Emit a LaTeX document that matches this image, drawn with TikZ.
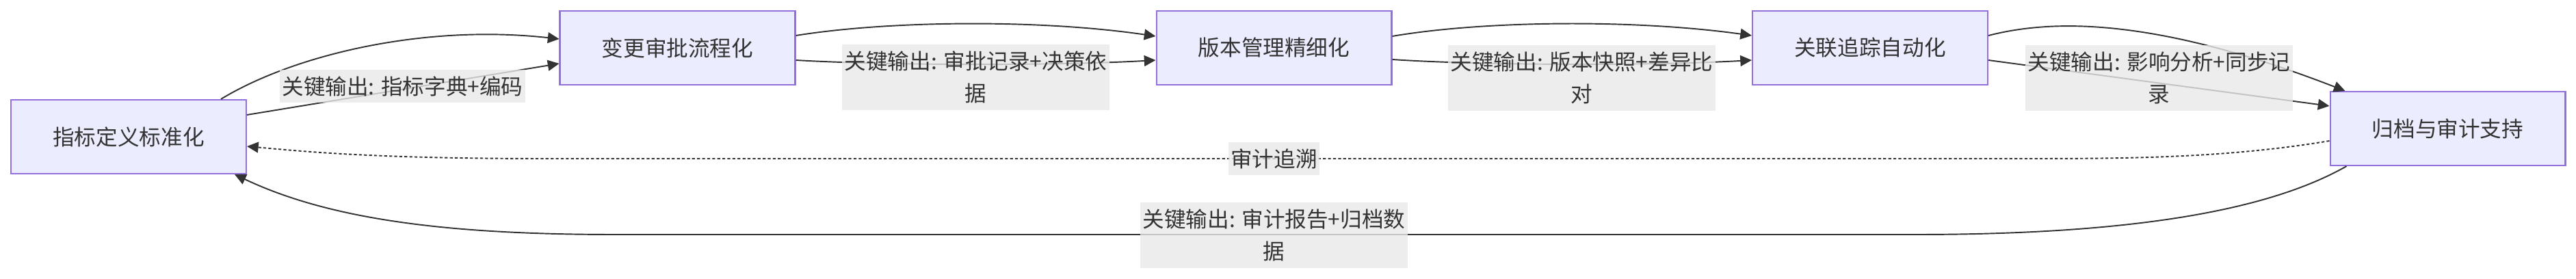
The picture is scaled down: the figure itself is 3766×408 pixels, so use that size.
\documentclass[tikz,border=0pt]{standalone}
\usepackage{fontspec}
\setmainfont{Noto Sans CJK SC}
\usetikzlibrary{arrows.meta, calc}

\begin{document}
\begin{tikzpicture}[x=0.02cm, y=-0.02cm, font=\fontsize{18}{27}\selectfont]

\definecolor{nodefill}{HTML}{ECECFF}
\definecolor{nodeline}{HTML}{9370DB}
\definecolor{ink}{HTML}{333333}
\definecolor{lblbg}{HTML}{E8E8E8}

\tikzset{
  stage/.style={rectangle, fill=nodefill, draw=nodeline, line width=1.2pt, minimum width=6.88cm, minimum height=2.16cm, inner sep=0pt, text=ink},
  elabel/.style={fill=lblbg, fill opacity=0.8, text opacity=1, text=ink, inner xsep=2pt, inner ysep=0pt, minimum height=0.96cm, align=center},
  elabel2/.style={elabel, minimum height=1.92cm},
  flow/.style={-{Triangle[length=9.5pt, width=9pt]}, line width=1.1pt, ink},
  trace/.style={flow, dash pattern=on 2.4pt off 1.8pt}
}

\useasboundingbox (0,0) rectangle (3766,408);

%stages
\node[stage] (std) at (188,200) {指标定义标准化};
\node[stage] (chg) at (990.5,70) {变更审批流程化};
\node[stage] (ver) at (1862.5,70) {版本管理精细化};
\node[stage] (trk) at (2734,70) {关联追踪自动化};
\node[stage] (arc) at (3578.5,188) {归档与审计支持};

%forward
\draw[flow] ($(std.north)+(135,0)$) .. controls (430,80) and (620,35) .. ($(chg.west)+(0,-13)$);
\draw[flow] ($(std.east)+(0,-32)$) -- ($(chg.west)+(0,23)$);

\draw[flow] ($(chg.east)+(0,-18)$) .. controls (1300,30) and (1520,28) .. ($(ver.west)+(0,-17)$);
\draw[flow] ($(chg.east)+(0,18)$) .. controls (1300,96) and (1550,96) .. ($(ver.west)+(0,18)$);

\draw[flow] ($(ver.east)+(0,-17)$) .. controls (2170,30) and (2390,28) .. ($(trk.west)+(0,-18)$);
\draw[flow] ($(ver.east)+(0,17)$) .. controls (2170,96) and (2420,96) .. ($(trk.west)+(0,18)$);

\draw[flow] ($(trk.east)+(0,-18)$) .. controls (3000,28) and (3150,25) .. ($(arc.north)+(-150,0)$);
\draw[flow] ($(trk.east)+(0,18)$) -- ($(arc.west)+(0,-33)$);

%back
\draw[trace] ($(arc.west)+(0,18)$) .. controls (3250,232) and (3100,232) .. (2950,232) -- (800,232) .. controls (550,232) and (450,222) .. ($(std.east)+(0,14)$);
\draw[flow] ($(arc.south)+(-148,0)$) .. controls (3330,300) and (3150,343) .. (2800,343) -- (900,343) .. controls (650,343) and (480,320) .. ($(std.south)+(155,0)$);

%labels
\node[elabel] (k1) at (588.5,126) {关键输出: 指标字典+编码};
\node[elabel2] (k2) at (1426.5,113) {关键输出: 审批记录+决策依\\据};
\node[elabel2] (k3) at (2312.5,114) {关键输出: 版本快照+差异比\\对};
\node[elabel2] (k4) at (3156.5,114) {关键输出: 影响分析+同步记\\录};
\node[elabel] (k5) at (1862.5,232) {审计追溯};
\node[elabel2] (k6) at (1862.5,344) {关键输出: 审计报告+归档数\\据};

\end{tikzpicture}
\end{document}
